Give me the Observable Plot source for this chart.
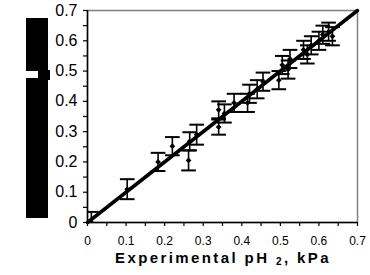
<!DOCTYPE html>
<html><head><meta charset="utf-8">
<script src="https://cdn.jsdelivr.net/npm/d3@7"></script>
<script src="https://cdn.jsdelivr.net/npm/@observablehq/plot@0.6"></script>
<style>
body{margin:0;background:#fff;font-family:"Liberation Sans",Arial,sans-serif;}
#wrap{position:relative;width:370px;height:275px;overflow:hidden;}
.blk{position:absolute;background:#000;}
.wht{position:absolute;background:#fff;}
#xt{position:absolute;left:0;width:446px;top:249px;text-align:center;font:bold 15px "Liberation Sans",Arial,sans-serif;letter-spacing:2.4px;color:#000;white-space:nowrap;}
#xt sub{font-size:10px;vertical-align:-2px;}
</style></head>
<body><div id="wrap"></div>
<script>
const expX = [0.010,0.103,0.183,0.220,0.262,0.265,0.283,0.340,0.340,0.355,0.380,0.415,0.420,0.440,0.455,0.496,0.505,0.520,0.525,0.560,0.570,0.580,0.600,0.610,0.625,0.635];
const predY = [0.000,0.110,0.200,0.252,0.205,0.268,0.290,0.315,0.372,0.360,0.395,0.395,0.425,0.440,0.465,0.470,0.520,0.505,0.540,0.570,0.555,0.585,0.600,0.620,0.630,0.615];
const errY = [0.035,0.033,0.030,0.030,0.033,0.030,0.033,0.025,0.028,0.030,0.030,0.030,0.030,0.030,0.030,0.030,0.030,0.030,0.030,0.030,0.030,0.030,0.030,0.030,0.030,0.030];
const parityLine = [0, 0.7];
const tickVals = d3.range(0, 15).map(i => i / 20);
const tickFmt = d => (Math.round(d * 20) % 2 ? "" : String(+d.toFixed(1)));

const data = expX.map((x, i) => ({x, y: predY[i], e: errY[i]}));
const capW = 0.019;

const chart = Plot.plot({
  width: 370, height: 275,
  marginLeft: 87, marginRight: 13, marginTop: 10, marginBottom: 53,
  style: {fontFamily: '"Liberation Sans", Arial, sans-serif', color: "#000", background: "#fff"},
  x: {domain: [0, 0.7], ticks: tickVals},
  y: {domain: [0, 0.7], ticks: tickVals},
  marks: [
    Plot.frame({stroke: "#808080", strokeWidth: 1.5}),
    Plot.axisX({ticks: tickVals, tickFormat: tickFmt, tickSize: 4, tickPadding: 10, fontSize: 12, label: null, strokeWidth: 1.2}),
    Plot.axisY({ticks: tickVals, tickFormat: tickFmt, tickSize: 4, tickPadding: 6, fontSize: 16, label: null, strokeWidth: 1.2}),
    Plot.ruleX([0], {stroke: "#000", strokeWidth: 1.5}),
    Plot.ruleY([0], {stroke: "#000", strokeWidth: 1.5}),
    Plot.ruleX(data, {x: "x", y1: d => d.y - d.e, y2: d => d.y + d.e, stroke: "#000", strokeWidth: 1.6, clip: true}),
    Plot.link(data, {x1: d => d.x - capW, x2: d => d.x + capW, y1: d => d.y + d.e, y2: d => d.y + d.e, stroke: "#000", strokeWidth: 2, clip: true}),
    Plot.link(data, {x1: d => d.x - capW, x2: d => d.x + capW, y1: d => d.y - d.e, y2: d => d.y - d.e, stroke: "#000", strokeWidth: 2, clip: true}),
    Plot.line(parityLine.map(v => ({v})), {x: "v", y: "v", stroke: "#000", strokeWidth: 3.5}),
    Plot.dot(data, {x: "x", y: "y", symbol: "diamond2", r: 2.6, fill: "#000", stroke: "none", clip: true})
  ]
});
const wrap = document.getElementById("wrap");
wrap.appendChild(chart);
function box(cls, l, t, w, h){const d=document.createElement("div");d.className=cls;Object.assign(d.style,{left:l+"px",top:t+"px",width:w+"px",height:h+"px"});wrap.appendChild(d);}
box("blk", 26, 18, 22, 200);
box("wht", 26, 71, 12, 7);
box("blk", 38, 70, 12, 10);
const xt = document.createElement("div");
xt.id = "xt";
xt.innerHTML = "Experimental pH <sub>2</sub>, kPa";
wrap.appendChild(xt);
</script></body></html>
